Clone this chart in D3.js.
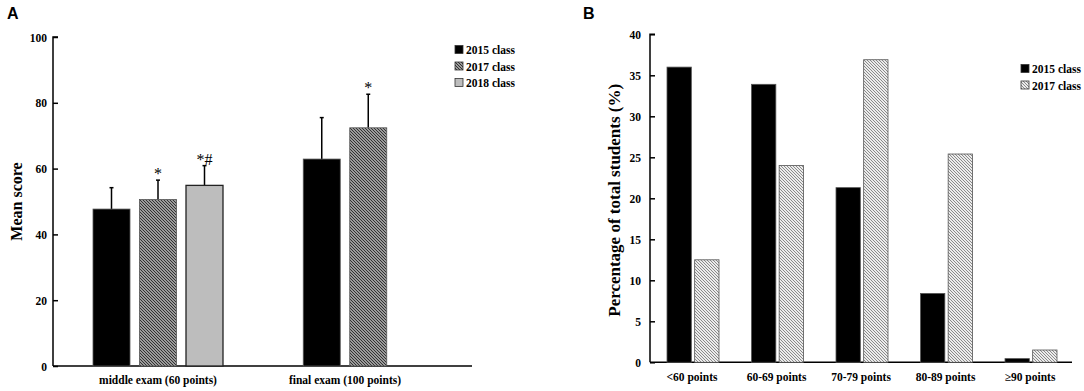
<!DOCTYPE html>
<html>
<head>
<meta charset="utf-8">
<script src="https://cdn.jsdelivr.net/npm/d3@7"></script>
<style>
  body { margin: 0; background: #fff; }
  svg text { font-family: "Liberation Serif", "Times New Roman", serif; font-weight: bold; fill: #000; }
</style>
</head>
<body>
<script>
// PANEL A DATA
const examGroups = ["middle exam (60 points)", "final exam (100 points)"];
const classesA = ["2015 class", "2017 class", "2018 class"];
const meanScores = {
    "2015 class": [47.7, 62.9],
    "2017 class": [50.6, 72.4],
    "2018 class": [54.9, null]
};
const scoreSD = {
    "2015 class": [6.5, 12.6],
    "2017 class": [5.9, 10.2],
    "2018 class": [6.0, null]
};
const signifMarks = {
    "2015 class": ["", ""],
    "2017 class": ["*", "*"],
    "2018 class": ["*#", ""]
};
const yTicksA = [0, 20, 40, 60, 80, 100];

// PANEL B DATA
const scoreBands = ["<60 points", "60-69 points", "70-79 points", "80-89 points", "\u226590 points"];
const classesB = ["2015 class", "2017 class"];
const pct2015 = [36.0, 33.9, 21.3, 8.4, 0.45];
const pct2017 = [12.5, 24.0, 36.9, 25.4, 1.5];
const yTicksB = [0, 5, 10, 15, 20, 25, 30, 35, 40];

const svg = d3.select("body").append("svg")
    .attr("width", 1084)
    .attr("height", 391);

// PATTERNS
const defs = svg.append("defs");
function hatch(id, bg, fg, w) {
    const p = defs.append("pattern")
        .attr("id", id)
        .attr("patternUnits", "userSpaceOnUse")
        .attr("width", 3).attr("height", 3);
    p.append("rect").attr("width", 3).attr("height", 3).attr("fill", bg);
    p.append("path")
        .attr("d", "M-1,-1 L4,4 M-1,2 L1,4 M2,-1 L4,1")
        .attr("stroke", fg).attr("stroke-width", w);
}
hatch("hatchDark", "#c8c8c8", "#2a2a2a", 1.1);
hatch("hatchLight", "#ececec", "#8a8a8a", 1.0);

const fillA = { "2015 class": "#000", "2017 class": "url(#hatchDark)", "2018 class": "#bdbdbd" };
const fillB = { "2015 class": "#000", "2017 class": "url(#hatchLight)" };

// ================= PANEL A =================
const a = { left: 53, right: 472, top: 37, bottom: 366 };
const gA = svg.append("g");

const yA = d3.scaleLinear().domain([0, 100]).range([a.bottom, a.top]);
const x0A = d3.scaleOrdinal().domain(examGroups).range([158, 345]);
const barW = 37, barStep = 46.5;

gA.append("text")
    .attr("x", 7).attr("y", 19)
    .style("font-family", "Liberation Sans, Arial, sans-serif")
    .attr("font-size", 16)
    .text("A");

gA.append("g")
    .attr("transform", `translate(${a.left},0)`)
    .call(d3.axisRight(yA).tickValues(yTicksA).tickSize(5).tickFormat(d3.format("d")))
    .call(g => g.select(".domain").attr("stroke-width", 1.5).attr("d", `M5,${a.top}H0V${a.bottom}`))
    .call(g => g.selectAll(".tick line").attr("stroke-width", 1.5))
    .call(g => g.selectAll(".tick text").attr("x", -6).attr("text-anchor", "end").attr("font-size", 11.5).attr("dy", "0.35em"));

gA.append("line")
    .attr("x1", a.left).attr("x2", a.right)
    .attr("y1", a.bottom).attr("y2", a.bottom)
    .attr("stroke", "#000").attr("stroke-width", 1.5);

gA.append("text")
    .attr("transform", `translate(22,${(a.top + a.bottom) / 2}) rotate(-90)`)
    .attr("text-anchor", "middle")
    .attr("font-size", 16)
    .text("Mean score");

examGroups.forEach((grp, gi) => {
    gA.append("text")
        .attr("x", x0A(grp)).attr("y", 384)
        .attr("text-anchor", "middle")
        .attr("font-size", 11.5)
        .text(grp);

    classesA.forEach((c, ci) => {
        const v = meanScores[c][gi];
        if (v == null) return;
        const offset = gi === 0 ? (ci - 1) * barStep : (ci - 0.5) * barStep;
        const cx = x0A(grp) + offset;
        const sd = scoreSD[c][gi];
        // error bar (upper only)
        gA.append("line")
            .attr("x1", cx).attr("x2", cx)
            .attr("y1", yA(v)).attr("y2", yA(v + sd))
            .attr("stroke", "#000").attr("stroke-width", 1.5);
        gA.append("line")
            .attr("x1", cx - 2).attr("x2", cx + 2)
            .attr("y1", yA(v + sd)).attr("y2", yA(v + sd))
            .attr("stroke", "#000").attr("stroke-width", 1.5);
        gA.append("rect")
            .attr("x", cx - barW / 2).attr("y", yA(v))
            .attr("width", barW).attr("height", yA(0) - yA(v))
            .attr("fill", fillA[c])
            .attr("stroke", ci === 2 ? "#222" : "#555").attr("stroke-width", ci === 2 ? 1.3 : 0.8);
        const m = signifMarks[c][gi];
        if (m) {
            gA.append("text")
                .attr("x", cx).attr("y", yA(v + sd) - 1)
                .attr("text-anchor", "middle")
                .attr("font-size", 16)
                .style("font-weight", "normal")
                .style("fill", "#000")
                .text(m);
        }
    });
});

// legend A
classesA.forEach((c, i) => {
    const ly = 50 + i * 16.5;
    gA.append("rect")
        .attr("x", 455).attr("y", ly - 4.5)
        .attr("width", 8).attr("height", 8)
        .attr("fill", fillA[c])
        .attr("stroke", "#333").attr("stroke-width", 0.8);
    gA.append("text")
        .attr("x", 466).attr("y", ly + 4)
        .attr("font-size", 11.5)
        .text(c);
});

// ================= PANEL B =================
const b = { left: 650, right: 1072, top: 34.3, bottom: 362.3 };
const gB = svg.append("g");

const yB = d3.scaleLinear().domain([0, 40]).range([b.bottom, b.top]);
const x0B = d3.scalePoint().domain(scoreBands).range([692, 1030]);
const x1B = d3.scaleBand().domain(classesB).range([-25, 27]).paddingInner(0.12);

gB.append("text")
    .attr("x", 583).attr("y", 19)
    .style("font-family", "Liberation Sans, Arial, sans-serif")
    .attr("font-size", 16)
    .text("B");

gB.append("g")
    .attr("transform", `translate(${b.left},0)`)
    .call(d3.axisRight(yB).tickValues(yTicksB).tickSize(5).tickFormat(d3.format("d")))
    .call(g => g.select(".domain").attr("stroke-width", 1.5).attr("d", `M5,${b.top}H0V${b.bottom}`))
    .call(g => g.selectAll(".tick line").attr("stroke-width", 1.5))
    .call(g => g.selectAll(".tick text").attr("x", -9).attr("text-anchor", "end").attr("font-size", 11.5).attr("dy", "0.35em"));

gB.append("line")
    .attr("x1", b.left).attr("x2", b.right)
    .attr("y1", b.bottom).attr("y2", b.bottom)
    .attr("stroke", "#000").attr("stroke-width", 1.5);

gB.append("text")
    .attr("transform", `translate(620,${(b.top + b.bottom) / 2 + 2}) rotate(-90)`)
    .attr("text-anchor", "middle")
    .attr("font-size", 17)
    .text("Percentage of total students (%)");

const seriesB = { "2015 class": pct2015, "2017 class": pct2017 };

scoreBands.forEach((band, bi) => {
    gB.append("text")
        .attr("x", x0B(band)).attr("y", 381)
        .attr("text-anchor", "middle")
        .attr("font-size", 11.5)
        .text(band);

    classesB.forEach(c => {
        const v = seriesB[c][bi];
        gB.append("rect")
            .attr("x", x0B(band) + x1B(c)).attr("y", yB(v))
            .attr("width", x1B.bandwidth()).attr("height", yB(0) - yB(v))
            .attr("fill", fillB[c])
            .attr("stroke", "#555").attr("stroke-width", 0.8);
    });
});

// legend B
classesB.forEach((c, i) => {
    const ly = 69 + i * 16.5;
    gB.append("rect")
        .attr("x", 1021).attr("y", ly - 4.5)
        .attr("width", 8).attr("height", 8)
        .attr("fill", fillB[c])
        .attr("stroke", "#333").attr("stroke-width", 0.8);
    gB.append("text")
        .attr("x", 1032).attr("y", ly + 4)
        .attr("font-size", 11.5)
        .text(c);
});
</script>
</body>
</html>
